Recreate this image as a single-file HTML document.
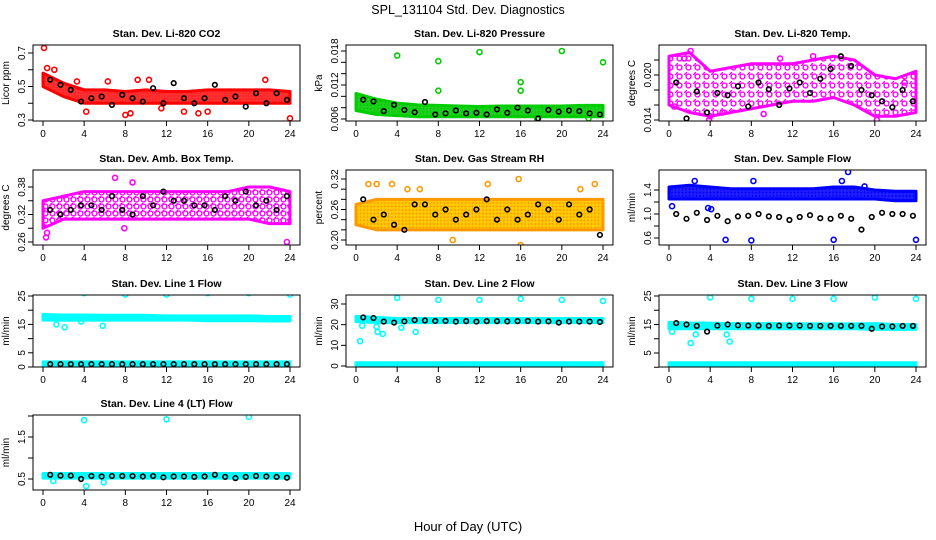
<!DOCTYPE html>
<html><head><meta charset="utf-8"><style>
body{margin:0;background:#fff}
svg{display:block;font-family:"Liberation Sans",sans-serif}
</style></head><body>
<svg id="chart" width="936" height="540" viewBox="0 0 936 540" xmlns="http://www.w3.org/2000/svg">
<defs></defs>
<text x="468" y="14" text-anchor="middle" font-size="12.5">SPL_131104  Std. Dev. Diagnostics</text>
<text x="468" y="531" text-anchor="middle" font-size="13">Hour of Day (UTC)</text>
</svg>
<script>
const hourTicks=[0,4,8,12,16,20,24];
// panel 1 CO2
const co2Lo=[0.50,0.44,0.40,0.40,0.40,0.40,0.40,0.40,0.40,0.40,0.40,0.40,0.40];
const co2Hi=[0.58,0.52,0.48,0.48,0.47,0.48,0.47,0.47,0.48,0.48,0.48,0.48,0.47];
const co2Out=[[0.1,0.73],[0.4,0.61],[1.1,0.60],[4.2,0.35],[8,0.33],[8.5,0.34],[10.3,0.54],[9.2,0.54],[6.3,0.53],[13.7,0.35],[16,0.35],[15.1,0.34],[21.6,0.54],[24,0.31],[11.5,0.37],[3.3,0.53]];
const co2Blk=[0.54,0.51,0.48,0.41,0.43,0.44,0.39,0.45,0.43,0.41,0.49,0.40,0.52,0.43,0.40,0.43,0.51,0.42,0.44,0.38,0.46,0.40,0.46,0.42];
// panel 2 pressure
const prLo=[0.0075,0.0068,0.0066,0.0064,0.0064,0.0064,0.0064,0.0064,0.0064,0.0064,0.0064,0.0064,0.0064];
const prHi=[0.0105,0.0095,0.0088,0.0085,0.0084,0.0083,0.0082,0.0083,0.0083,0.0083,0.0083,0.0084,0.0084];
const prOut=[[4,0.0172],[8,0.0162],[8,0.0110],[12,0.0178],[16,0.0125],[16,0.0110],[20,0.0180],[24,0.0160],[22.6,0.0061],[17.6,0.0060]];
const prBlk=[0.0094,0.0091,0.0074,0.0085,0.0076,0.0072,0.0090,0.0068,0.0070,0.0075,0.0070,0.0071,0.0068,0.0077,0.0071,0.0080,0.0075,0.0061,0.0076,0.0073,0.0075,0.0074,0.0070,0.0068];
// panel 3 Li-820 temp
const ltLo=[0.0160,0.0150,0.0145,0.0150,0.0155,0.0160,0.0165,0.0165,0.0170,0.0160,0.0145,0.0145,0.0150];
const ltHi=[0.0225,0.0230,0.0205,0.0210,0.0215,0.0215,0.0215,0.0220,0.0225,0.0220,0.0200,0.0195,0.0205];
const ltOut=[[2.1,0.0232],[1.5,0.0222],[10.8,0.0222],[14,0.0225],[22.9,0.019],[0.5,0.0158],[3.9,0.0140],[4,0.0145],[20.2,0.0140],[5.2,0.0150],[9.2,0.0148]];
const ltBlk=[0.0190,0.0142,0.0178,0.0150,0.0176,0.0173,0.0185,0.0158,0.0190,0.0181,0.0160,0.0182,0.0190,0.0176,0.0195,0.0208,0.0225,0.0212,0.0180,0.0173,0.0165,0.0157,0.0180,0.0165];
// panel 4 amb box temp
const abLo=[0.29,0.31,0.31,0.31,0.31,0.31,0.31,0.31,0.31,0.31,0.31,0.30,0.30];
const abHi=[0.35,0.36,0.37,0.37,0.37,0.37,0.37,0.37,0.37,0.37,0.38,0.38,0.37];
const abOut=[[0.3,0.27],[0.4,0.28],[7,0.40],[8.7,0.39],[23.7,0.26],[7.9,0.29]];
const abBlk=[0.33,0.32,0.33,0.34,0.34,0.33,0.36,0.33,0.32,0.36,0.34,0.37,0.35,0.35,0.34,0.34,0.33,0.36,0.35,0.37,0.34,0.35,0.33,0.36];
// panel 5 RH
const rhLo=[0.23,0.22,0.22,0.22,0.22,0.22,0.22,0.22,0.22,0.22,0.22,0.22,0.22];
const rhHi=[0.27,0.28,0.28,0.28,0.28,0.28,0.28,0.28,0.28,0.28,0.28,0.28,0.28];
const rhOut=[[1.2,0.31],[2,0.31],[3.5,0.31],[6.2,0.30],[9.4,0.20],[12.8,0.31],[15.8,0.32],[16,0.19],[23.2,0.31],[21.8,0.30],[5,0.30]];
const rhBlk=[0.28,0.24,0.25,0.23,0.22,0.27,0.27,0.25,0.26,0.24,0.25,0.26,0.28,0.24,0.26,0.24,0.25,0.27,0.26,0.24,0.27,0.25,0.26,0.21];
// panel 6 sample flow
const sfLo=[1.25,1.25,1.25,1.25,1.25,1.25,1.25,1.25,1.25,1.25,1.25,1.22,1.22];
const sfHi=[1.45,1.48,1.45,1.42,1.42,1.42,1.42,1.42,1.45,1.45,1.40,1.38,1.38];
const sfOut=[[0.3,1.13],[2.5,1.55],[3.8,1.1],[4.1,1.08],[5.5,0.57],[8,0.56],[8.2,1.55],[16,0.57],[17.4,1.70],[16.8,1.55],[24,0.57],[19,1.46]];
const sfBlk=[1.0,0.92,1.02,0.90,0.97,0.88,0.96,0.97,1.00,0.96,0.95,0.90,0.95,0.98,0.93,0.92,0.97,0.92,0.74,0.95,1.02,1.00,1.00,0.97];
// panel 7 line 1
const l1Lo=[16.5,16.5,16.5,16.5,16.5,16.5,16.5,16.5,16.3,16.3,16.3,16.2,16.2];
const l1Hi=[18.5,18.3,18.3,18.2,18.2,18.2,18.0,18.0,18.0,18.0,18.0,17.8,17.8];
const l1Lo2=[0.5,0.5,0.5,0.5,0.5,0.5,0.5,0.5,0.5,0.5,0.5,0.5,0.5];
const l1Hi2=[1.8,1.8,1.8,1.8,1.8,1.8,1.8,1.8,1.8,1.8,1.8,1.8,1.8];
const l1Out=[[4,26],[8,25.5],[12,25.5],[16,26],[20,26],[24,25.5],[1.3,15],[2.1,14],[5.8,14.5],[3.7,16]];
const l1Blk=[1,1,1,1,1,1,1,1,1,1,1,1,1,1,1,1,1,1,1,1,1,1,1,1];
// panel 8 line 2
const l2Lo=[21.5,21,21,21,21,21,21,21,21,21,21,21,21];
const l2Hi=[24,23.5,23,23,23,23,23,23,23,23,23,23,23];
const l2Lo2=[0.3,0.3,0.3,0.3,0.3,0.3,0.3,0.3,0.3,0.3,0.3,0.3,0.3];
const l2Hi2=[1.6,1.6,1.6,1.6,1.6,1.6,1.6,1.6,1.6,1.6,1.6,1.6,1.6];
const l2Out=[[0.4,12],[4,33],[8,32],[12,32],[16,32.5],[20,32],[24,31.5],[2.1,16.5],[2.6,15.5],[5.8,16.5],[2,19],[4.4,18.5],[0.6,19.5]];
const l2Blk=[23.5,23.2,21.5,21.0,21.6,22.2,22.0,21.8,21.8,21.5,21.7,21.5,21.7,21.7,21.6,21.7,21.8,21.5,21.6,21.0,21.5,21.5,21.5,21.3];
// panel 9 line 3
const l3Lo=[13.5,13.5,13.5,13.5,13.5,13.5,13.5,13.5,13.5,13.5,13.3,13.3,13.3];
const l3Hi=[15.8,15.5,15.5,15.3,15.3,15.3,15.2,15.2,15.2,15.2,15.3,15.0,15.0];
const l3Lo2=[0.3,0.3,0.3,0.3,0.3,0.3,0.3,0.3,0.3,0.3,0.3,0.3,0.3];
const l3Hi2=[1.6,1.6,1.6,1.6,1.6,1.6,1.6,1.6,1.6,1.6,1.6,1.6,1.6];
const l3Out=[[0.3,12.5],[2.1,8.5],[2.6,11.5],[5.9,9],[5.6,11.5],[4,24.5],[8,24],[12,24],[16,24],[20,24.5],[24,24]];
const l3Blk=[15.5,15.0,14.5,12.5,14.6,15.0,14.7,14.6,14.6,14.5,14.6,14.6,14.6,14.5,14.5,14.5,14.5,14.5,14.5,13.5,14.3,14.3,14.5,14.5];
// panel 10 line 4
const l4Lo=[0.52,0.52,0.52,0.52,0.52,0.52,0.52,0.52,0.52,0.52,0.52,0.52,0.52];
const l4Hi=[0.63,0.63,0.63,0.63,0.63,0.63,0.63,0.63,0.63,0.63,0.63,0.63,0.63];
const l4Out=[[4,1.9],[12,1.92],[20,1.98],[4.2,0.33],[5.9,0.42],[1,0.45]];
const l4Blk=[0.60,0.58,0.58,0.50,0.57,0.56,0.57,0.57,0.57,0.56,0.57,0.54,0.56,0.56,0.55,0.56,0.60,0.55,0.52,0.55,0.57,0.56,0.55,0.53];

const NS="http://www.w3.org/2000/svg";
const svg=document.getElementById('chart');
const defs=svg.querySelector('defs');
function mk(tag,attrs,parent){const e=document.createElementNS(NS,tag);for(const k in attrs)e.setAttribute(k,attrs[k]);(parent||svg).appendChild(e);return e;}
const colX=[43,356,669];const rowTop=[45,170,295,415];const rowBot=[121,245,367,490];
function pattern(id,col,bg,dense,stag){const p=mk('pattern',{id:id,width:dense,height:dense,patternUnits:'userSpaceOnUse'},defs);
 if(bg)mk('rect',{width:dense,height:dense,fill:bg},p);
 mk('circle',{cx:dense/2,cy:dense/2,r:2.4,fill:'none',stroke:col,'stroke-width':1.4},p);
 if(stag){mk('circle',{cx:0,cy:0,r:2.4,fill:'none',stroke:col,'stroke-width':1.4},p);}}
pattern('p-red','#ff0000','#ff3030',3);pattern('p-green','#00cc00','#20d020',3.5);
pattern('p-mag','#ff00ff',null,9,true);pattern('p-mag2','#ff00ff',null,7,true);
pattern('p-org','#ff9900','#ffcc00',3.5);pattern('p-blue','#0000ff','#2020ff',3.5);pattern('p-cyan','#00ffff','#00ffff',3);

const panels=[
 {name:'co2',title:'Stan. Dev. Li-820 CO2',yl:'Licor ppm',c:0,r:0,v0:0.3,p0:120,v1:0.7,p1:53,ticks:[0.3,0.4,0.5,0.6,0.7],labs:[0.3,0.5,0.7],dec:1,col:'#ff0000',pat:'p-red',bands:[[co2Lo,co2Hi]],out:co2Out,blk:co2Blk},
 {name:'pressure',title:'Stan. Dev. Li-820 Pressure',yl:'kPa',c:1,r:0,v0:0.006,p0:119,v1:0.018,p1:51,ticks:[0.006,0.008,0.010,0.012,0.014,0.016,0.018],labs:[0.006,0.012,0.018],dec:3,col:'#00cc00',pat:'p-green',bands:[[prLo,prHi]],out:prOut,blk:prBlk},
 {name:'li820-temp',title:'Stan. Dev. Li-820 Temp.',yl:'degrees C',c:2,r:0,v0:0.014,p0:120,v1:0.020,p1:75,ticks:[0.014,0.016,0.018,0.020,0.022],labs:[0.014,0.020],dec:3,col:'#ff00ff',pat:'p-mag',bands:[[ltLo,ltHi]],out:ltOut,blk:ltBlk},
 {name:'amb-box-temp',title:'Stan. Dev. Amb. Box Temp.',yl:'degrees C',c:0,r:1,v0:0.26,p0:242,v1:0.38,p1:187,ticks:[0.26,0.29,0.32,0.35,0.38],labs:[0.26,0.32,0.38],dec:2,col:'#ff00ff',pat:'p-mag2',bands:[[abLo,abHi]],out:abOut,blk:abBlk},
 {name:'gas-rh',title:'Stan. Dev. Gas Stream RH',yl:'percent',c:1,r:1,v0:0.20,p0:240,v1:0.32,p1:179,ticks:[0.20,0.22,0.24,0.26,0.28,0.30,0.32],labs:[0.20,0.26,0.32],dec:2,col:'#ff9900',pat:'p-org',bands:[[rhLo,rhHi]],out:rhOut,blk:rhBlk},
 {name:'sample-flow',title:'Stan. Dev. Sample Flow',yl:'ml/min',c:2,r:1,v0:0.6,p0:238,v1:1.4,p1:190,ticks:[0.6,0.8,1.0,1.2,1.4],labs:[0.6,1.0,1.4],dec:1,col:'#0000ff',pat:'p-blue',bands:[[sfLo,sfHi]],out:sfOut,blk:sfBlk},
 {name:'line1-flow',title:'Stan. Dev. Line 1 Flow',yl:'ml/min',c:0,r:2,v0:0,p0:367,v1:25,p1:296,ticks:[0,5,10,15,20,25],labs:[0,5,15,25],dec:0,col:'#00ffff',pat:'p-cyan',bands:[[l1Lo,l1Hi],[l1Lo2,l1Hi2]],out:l1Out,blk:l1Blk},
 {name:'line2-flow',title:'Stan. Dev. Line 2 Flow',yl:'ml/min',c:1,r:2,v0:0,p0:366,v1:30,p1:304,ticks:[0,10,20,30],labs:[0,10,20,30],dec:0,col:'#00ffff',pat:'p-cyan',bands:[[l2Lo,l2Hi],[l2Lo2,l2Hi2]],out:l2Out,blk:l2Blk},
 {name:'line3-flow',title:'Stan. Dev. Line 3 Flow',yl:'ml/min',c:2,r:2,v0:5,p0:353,v1:25,p1:296,ticks:[0,5,10,15,20,25],labs:[5,15,25],dec:0,col:'#00ffff',pat:'p-cyan',bands:[[l3Lo,l3Hi],[l3Lo2,l3Hi2]],out:l3Out,blk:l3Blk},
 {name:'line4-flow',title:'Stan. Dev. Line 4 (LT) Flow',yl:'ml/min',c:0,r:3,v0:0.5,p0:479,v1:1.5,p1:437,ticks:[0.5,1.0,1.5,2.0],labs:[0.5,1.5],dec:1,col:'#00ffff',pat:'p-cyan',bands:[[l4Lo,l4Hi]],out:l4Out,blk:l4Blk}
];
panels.forEach(P=>{
 const x0=colX[P.c],L=x0-10,R=x0+257,T=rowTop[P.r],B=rowBot[P.r];
 const sx=h=>x0+h*247/24;
 const sy=v=>P.p0+(v-P.v0)*(P.p1-P.p0)/(P.v1-P.v0);
 const g=mk('g',{});
 
 
 const cp='clip-'+P.name;
 const cl=mk('clipPath',{id:cp},defs);mk('rect',{x:L,y:T,width:R-L,height:B-T},cl);
 const plot=mk('g',{'clip-path':'url(#'+cp+')'},g);
 P.bands.forEach((bd,bi)=>{
  const lo=bd[0],hi=bd[1];let d='';
  hi.forEach((v,i)=>{d+=(i?'L':'M')+sx(i*2)+','+sy(v);});
  for(let i=lo.length-1;i>=0;i--)d+='L'+sx(i*2)+','+sy(lo[i]);
  const p=mk('path',{d:d+'Z',fill:'url(#'+P.pat+')',stroke:P.col,'stroke-width':3,'stroke-linejoin':'round'},plot);
  
  
 });
 P.out.forEach(o=>{
  const c=mk('circle',{cx:sx(o[0]),cy:sy(o[1]),r:2.5,fill:'none',stroke:P.col,'stroke-width':1.6},plot);
  
  
 });
 P.blk.forEach((v,i)=>{
  const c=mk('circle',{cx:sx(0.7+i),cy:sy(v),r:2.3,fill:'none',stroke:'#000','stroke-width':1.6},plot);
  
  
 });
 const box=mk('rect',{x:L,y:T,width:R-L,height:B-T,fill:'none',stroke:'#000','stroke-width':1},g);
 
 
 const t=mk('text',{x:(L+R)/2,y:T-8,'text-anchor':'middle','font-size':10.5,'font-weight':'bold'},g);t.textContent=P.title;
 
 
 hourTicks.forEach(h=>{mk('line',{x1:sx(h),x2:sx(h),y1:B,y2:B+5,stroke:'#000'},g);
  const tl=mk('text',{x:sx(h),y:B+16,'text-anchor':'middle','font-size':10},g);tl.textContent=h;
  
  });
 P.ticks.forEach(v=>{const y=sy(v);if(y<T-1||y>B+1)return;mk('line',{x1:L-5,x2:L,y1:y,y2:y,stroke:'#000'},g);});
 P.labs.forEach(v=>{const y=sy(v);const tl=mk('text',{x:L-8,y:y,'text-anchor':'middle','font-size':10,transform:'rotate(-90 '+(L-8)+' '+y+')'},g);tl.textContent=v.toFixed(P.dec);
  
  });
 const ym=(T+B)/2;const yt=mk('text',{x:L-24,y:ym,'text-anchor':'middle','font-size':10,transform:'rotate(-90 '+(L-24)+' '+ym+')'},g);yt.textContent=P.yl;
 
 
});
</script>
</body></html>
